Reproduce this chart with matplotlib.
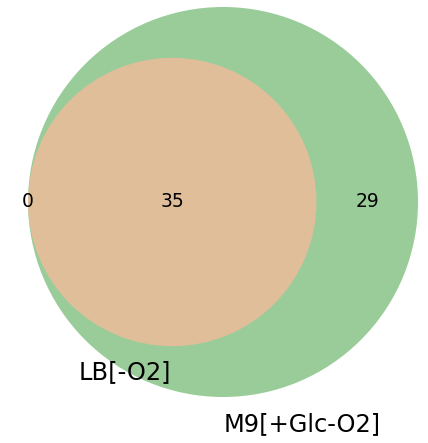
import numpy as np
import matplotlib
matplotlib.use("Agg")
import matplotlib.pyplot as plt
from matplotlib.patches import Circle

# Data
set_labels = ["LB[-O2]", "M9[+Glc-O2]"]
only_lb = 0
both = 35
only_m9 = 29
subset_labels = [only_lb, both, only_m9]

W, H, DPI = 428, 443, 100
fig = plt.figure(figsize=(W / DPI, H / DPI), dpi=DPI)
ax = fig.add_axes([0, 0, 1, 1])
ax.set_axis_off()

# radii proportional to set sizes (area)
R = np.sqrt((only_m9 + both) / np.pi)
r = np.sqrt((only_lb + both) / np.pi)
big_c = (0.0, 0.0)
small_c = (-(R - r), 0.0)

# pixel mapping
s = 195.0 / R  # px per unit
cx_px, cy_px = 223.0, 202.0
ax.set_xlim(-cx_px / s, (W - cx_px) / s)
ax.set_ylim(-(H - cy_px) / s, cy_px / s)
ax.set_aspect("equal")

green = (153 / 255, 204 / 255, 153 / 255)
peach = (224 / 255, 190 / 255, 154 / 255)

ax.add_patch(Circle(big_c, R, facecolor=green, edgecolor="none"))
ax.add_patch(Circle(small_c, r, facecolor=peach, edgecolor="none"))

num_fs = 13.5
ax.text(-R, 0, str(subset_labels[0]), ha="center", va="center", fontsize=num_fs)
ax.text(small_c[0], 0, str(subset_labels[1]), ha="center", va="center", fontsize=num_fs)
ax.text((small_c[0] + r + R) / 2, 0, str(subset_labels[2]), ha="center", va="center", fontsize=num_fs)

lab_fs = 17.4
ax.text(small_c[0] - 47 / s, -(r + 26 / s), set_labels[0], ha="center", va="center", fontsize=lab_fs)
ax.text(big_c[0] + 79 / s, -(R + 27 / s), set_labels[1], ha="center", va="center", fontsize=lab_fs)

fig.savefig("out.png", dpi=DPI)
